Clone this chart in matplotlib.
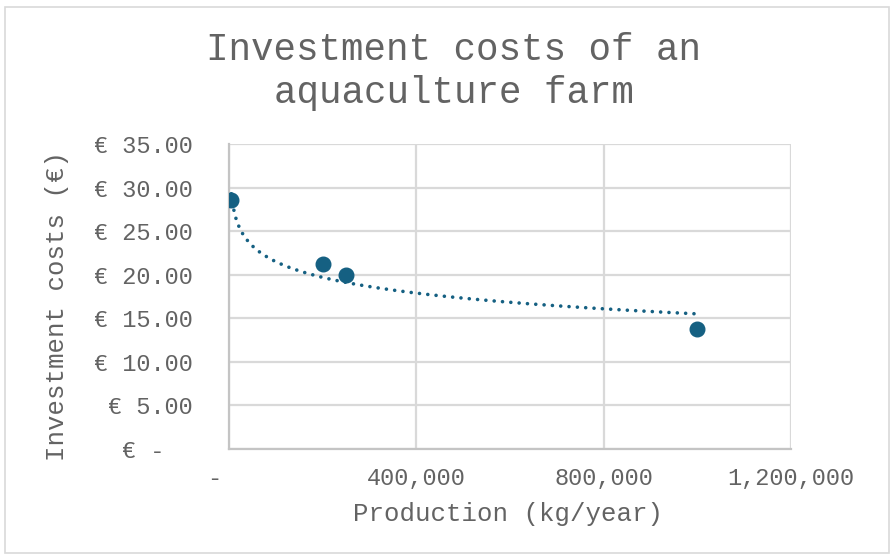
import matplotlib.pyplot as plt
import matplotlib.patches as mpatches
from matplotlib.ticker import FuncFormatter
import numpy as np

# production (kg/year) vs investment cost per unit
production = [5000, 200000, 250000, 1000000]
investment_cost = [28.6, 21.2, 20.0, 13.8]

x_ticks = [0, 400000, 800000, 1200000]
y_ticks = [0, 5, 10, 15, 20, 25, 30, 35]

blue = '#156082'
text_gray = '#636363'
grid_gray = '#D9D9D9'

plt.rcParams['font.family'] = ['Liberation Mono', 'DejaVu Sans Mono']

W, H = 891, 556
fig = plt.figure(figsize=(W / 100, H / 100), dpi=100)

# outer chart frame
fig.patches.append(mpatches.Rectangle((5 / W, 3 / H), 884 / W, 546 / H,
                                      transform=fig.transFigure, fill=False,
                                      edgecolor=grid_gray, linewidth=1.2))

ax = fig.add_axes([229 / W, 107 / H, 562 / W, 305 / H])

x = np.array(production, dtype=float)
y = np.array(investment_cost)

# logarithmic trendline
a, b = np.polyfit(np.log(x), y, 1)
xs = np.linspace(x.min(), x.max(), 300)
ax.plot(xs, a * np.log(xs) + b, color=blue, linewidth=2.6,
        linestyle=(0, (0.01, 2.3)), dash_capstyle='round', zorder=3)

ax.plot(x, y, 'o', color=blue, markersize=10.5, zorder=4)

ax.set_xlim(0, 1200000)
ax.set_ylim(0, 35)
ax.set_xticks(x_ticks)
ax.set_yticks(y_ticks)
ax.xaxis.set_major_formatter(FuncFormatter(lambda v, p: '-  ' if v == 0 else f'{int(v):,}'))
ax.yaxis.set_major_formatter(FuncFormatter(lambda v, p: '€ -  ' if v == 0 else f'€ {v:.2f}'))
ax.tick_params(axis='both', length=0, labelsize=17, labelcolor=text_gray)
ax.tick_params(axis='y', pad=26)
ax.tick_params(axis='x', pad=13)

ax.grid(True, color=grid_gray, linewidth=1.6)
ax.set_axisbelow(True)
for side in ['top', 'right']:
    ax.spines[side].set_visible(False)
for side in ['left', 'bottom']:
    ax.spines[side].set_color('#C4C4C4')
    ax.spines[side].set_linewidth(1.6)

fig.text(454 / W, 1 - 71.5 / H, 'Investment costs of an\naquaculture farm',
         ha='center', va='center', fontsize=27, color=text_gray, linespacing=1.22)
fig.text(508 / W, 1 - 514 / H, 'Production (kg/year)', ha='center', va='center',
         fontsize=18.5, color=text_gray)
fig.text(57 / W, 1 - 306 / H, 'Investment costs (€)', ha='center', va='center',
         rotation=90, fontsize=18.5, color=text_gray)

fig.savefig('out.png', dpi=100)
